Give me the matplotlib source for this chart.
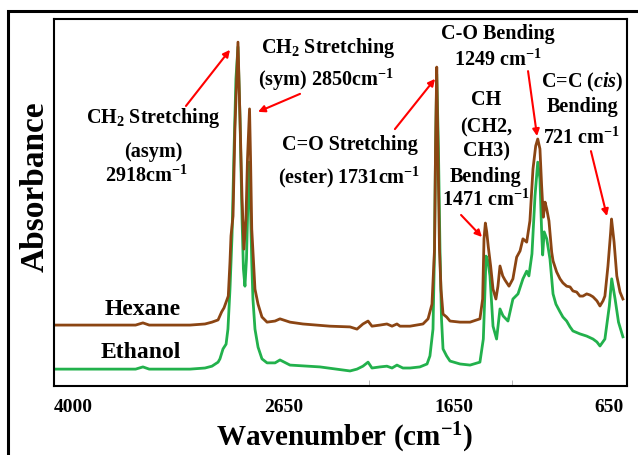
import matplotlib
matplotlib.use("Agg")
import matplotlib.pyplot as plt
from matplotlib.patches import Rectangle

plt.rcParams['font.family'] = ['Liberation Serif', 'DejaVu Serif']
plt.rcParams['font.weight'] = 'bold'
plt.rcParams['mathtext.fontset'] = 'custom'
plt.rcParams['mathtext.rm'] = 'Liberation Serif:bold'
plt.rcParams['mathtext.it'] = 'Liberation Serif:italic:bold'
plt.rcParams['mathtext.bf'] = 'Liberation Serif:bold'

# spectra (wavenumber cm-1, absorbance a.u.)
hexane_wn = [4000, 3847, 3671, 3520, 3477, 3440, 3377, 3200, 3112, 3071, 3035, 3014, 3000,
             2975, 2965, 2959, 2947, 2936, 2918, 2906, 2894, 2883, 2871, 2862, 2850, 2844,
             2837, 2818, 2800, 2777, 2747, 2700, 2671, 2612, 2536, 2377, 2259, 2218, 2183,
             2153, 2130, 2083, 2042, 2012, 1983, 1965, 1906, 1830, 1800, 1777, 1762, 1756,
             1749, 1742, 1733, 1724, 1712, 1691, 1671, 1612, 1553, 1495, 1479, 1471, 1463,
             1455, 1446, 1432, 1418, 1401, 1389, 1377, 1361, 1348, 1324, 1301, 1279, 1259,
             1242, 1220, 1201, 1183, 1167, 1155, 1142, 1132, 1122, 1112, 1102, 1089, 1073,
             1065, 1044, 1024, 1007, 985, 965, 948, 926, 907, 889, 867, 848, 830, 807, 789,
             771, 760, 742, 726, 721, 706, 690, 671, 654]
hexane_abs = [0.166, 0.166, 0.166, 0.166, 0.172, 0.166, 0.166, 0.166, 0.169, 0.174, 0.180,
              0.202, 0.213, 0.245, 0.338, 0.409, 0.463, 0.700, 0.937, 0.728, 0.510, 0.373,
              0.455, 0.619, 0.755, 0.619, 0.428, 0.264, 0.223, 0.188, 0.174, 0.177, 0.183,
              0.174, 0.169, 0.163, 0.161, 0.155, 0.169, 0.177, 0.163, 0.166, 0.169, 0.163,
              0.169, 0.163, 0.163, 0.169, 0.183, 0.223, 0.373, 0.646, 0.869, 0.646, 0.373,
              0.264, 0.196, 0.188, 0.177, 0.174, 0.174, 0.183, 0.237, 0.401, 0.444, 0.420,
              0.380, 0.327, 0.264, 0.237, 0.272, 0.327, 0.300, 0.289, 0.272, 0.292, 0.351,
              0.368, 0.401, 0.392, 0.450, 0.591, 0.654, 0.673, 0.646, 0.545, 0.460, 0.501,
              0.482, 0.450, 0.365, 0.341, 0.311, 0.292, 0.281, 0.272, 0.270, 0.259, 0.256,
              0.245, 0.245, 0.251, 0.248, 0.243, 0.232, 0.218, 0.232, 0.245, 0.327, 0.420,
              0.455, 0.392, 0.300, 0.256, 0.237]

ethanol_wn = [4000, 3847, 3671, 3520, 3477, 3440, 3377, 3200, 3112, 3071, 3035, 3024, 3006,
              2988, 2977, 2965, 2953, 2941, 2930, 2918, 2906, 2894, 2886, 2877, 2868, 2859,
              2853, 2844, 2837, 2830, 2818, 2800, 2777, 2747, 2700, 2671, 2612, 2436, 2259,
              2218, 2183, 2153, 2130, 2083, 2042, 2012, 1983, 1948, 1906, 1848, 1806, 1789,
              1771, 1762, 1756, 1749, 1739, 1730, 1721, 1712, 1691, 1671, 1612, 1553, 1495,
              1475, 1465, 1459, 1448, 1436, 1418, 1397, 1377, 1359, 1330, 1301, 1271, 1242,
              1220, 1207, 1189, 1171, 1155, 1142, 1132, 1126, 1117, 1102, 1083, 1065, 1048,
              1024, 1007, 985, 965, 948, 907, 867, 830, 807, 789, 760, 734, 720, 700, 680, 654]
ethanol_abs = [0.046, 0.046, 0.046, 0.046, 0.052, 0.046, 0.046, 0.046, 0.049, 0.054, 0.065,
               0.074, 0.101, 0.114, 0.155, 0.264, 0.409, 0.646, 0.837, 0.924, 0.728, 0.455,
               0.319, 0.272, 0.346, 0.510, 0.610, 0.482, 0.338, 0.237, 0.155, 0.106, 0.074,
               0.063, 0.063, 0.071, 0.057, 0.052, 0.041, 0.046, 0.054, 0.065, 0.049, 0.052,
               0.054, 0.049, 0.057, 0.049, 0.049, 0.052, 0.060, 0.082, 0.155, 0.373, 0.646,
               0.850, 0.646, 0.373, 0.183, 0.101, 0.082, 0.068, 0.060, 0.057, 0.065, 0.128,
               0.264, 0.354, 0.341, 0.300, 0.163, 0.128, 0.210, 0.191, 0.177, 0.237, 0.251,
               0.292, 0.313, 0.300, 0.360, 0.518, 0.610, 0.564, 0.420, 0.357, 0.420, 0.401,
               0.346, 0.251, 0.223, 0.202, 0.188, 0.177, 0.161, 0.150, 0.142, 0.136, 0.128,
               0.120, 0.109, 0.128, 0.218, 0.292, 0.237, 0.174, 0.134]

tick_vals = [4000, 2650, 1650, 650]
tick_labels = ['4000', '2650', '1650', '650']

brown = '#8B4513'
green = '#22B14C'
fs_ann = 14.5

fig = plt.figure(figsize=(6.38, 4.56), dpi=100)
ax = fig.add_axes([54 / 638, 69 / 456, 573 / 638, 367 / 456])

# ethanol first so the hexane trace sits on top
ax.plot(ethanol_wn, ethanol_abs, color=green, lw=2.0)
ax.plot(hexane_wn, hexane_abs, color=brown, lw=2.0)

ax.set_xlim(4000, 630)
ax.set_ylim(0, 1)
ax.set_yticks([])
ax.set_xticks(tick_vals)
ax.set_xticklabels(tick_labels, fontsize=14, fontweight='bold')
labs = ax.get_xticklabels()
labs[0].set_ha('left')
labs[-1].set_ha('right')
ax.tick_params(axis='x', length=0, pad=9)
ax.set_xticks([2148, 1307], minor=True)
ax.tick_params(axis='x', which='minor', direction='in', length=4, color='#aaaaaa')
for s in ax.spines.values():
    s.set_linewidth(1.5)

# sample names
ax.text(3477, 0.210, 'Hexane', fontsize=17, ha='center', va='center')
ax.text(3488, 0.093, 'Ethanol', fontsize=17, ha='center', va='center')

arrow = dict(arrowstyle='-|>', color='red', lw=1.5, mutation_scale=10, shrinkA=0, shrinkB=0)

# CH2 asym
ax.text(3418, 0.733, 'CH$_2$ Stretching', fontsize=fs_ann, ha='center', va='center')
ax.text(3418, 0.640, '(asym)', fontsize=fs_ann, ha='center', va='center')
ax.text(3459, 0.575, '2918cm$^{-1}$', fontsize=fs_ann, ha='center', va='center')
ax.annotate('', xy=(2965, 0.916), xytext=(3224, 0.763), arrowprops=arrow)

# CH2 sym
ax.text(2389, 0.924, 'CH$_2$ Stretching', fontsize=fs_ann, ha='center', va='center')
ax.text(2400, 0.837, '(sym) 2850cm$^{-1}$', fontsize=fs_ann, ha='center', va='center')
ax.annotate('', xy=(2800, 0.747), xytext=(2553, 0.796), arrowprops=arrow)

# C=O
ax.text(2259, 0.659, 'C=O Stretching', fontsize=fs_ann, ha='center', va='center')
ax.text(2265, 0.572, '(ester) 1731cm$^{-1}$', fontsize=fs_ann, ha='center', va='center')
ax.annotate('', xy=(1759, 0.837), xytext=(1995, 0.700), arrowprops=arrow)

# C-O
ax.text(1389, 0.962, 'C-O Bending', fontsize=fs_ann, ha='center', va='center')
ax.text(1389, 0.891, '1249 cm$^{-1}$', fontsize=fs_ann, ha='center', va='center')
ax.annotate('', xy=(1159, 0.681), xytext=(1212, 0.858), arrowprops=arrow)

# CH bending
for txt, yy in [('CH', 0.782), ('(CH2,', 0.708), ('CH3)', 0.643), ('Bending', 0.572),
                ('1471 cm$^{-1}$', 0.510)]:
    ax.text(1459, yy, txt, fontsize=fs_ann, ha='center', va='center')
ax.annotate('', xy=(1483, 0.406), xytext=(1606, 0.466), arrowprops=arrow)

# C=C cis
ax.text(895, 0.831, r'C=C ($\mathit{cis}$)', fontsize=fs_ann, ha='center', va='center')
ax.text(889, 0.763, 'Bending', fontsize=fs_ann, ha='center', va='center')
ax.text(895, 0.678, '721 cm$^{-1}$', fontsize=fs_ann, ha='center', va='center')
ax.annotate('', xy=(748, 0.463), xytext=(842, 0.640), arrowprops=arrow)

fig.text(35 / 638, 1 - 187 / 456, 'Absorbance', rotation=90, fontsize=24,
         ha='center', va='center')
fig.text(345 / 638, 1 - 438 / 456, 'Wavenumber (cm$^{-1}$)', fontsize=21,
         ha='center', va='center')

# outer frame
fig.patches.append(Rectangle((8 / 638, -0.2), 1.5, 0.2 + 1 - 12 / 456, transform=fig.transFigure,
                             fill=False, lw=2.2, ec='black'))

fig.savefig('out.png', dpi=100)
